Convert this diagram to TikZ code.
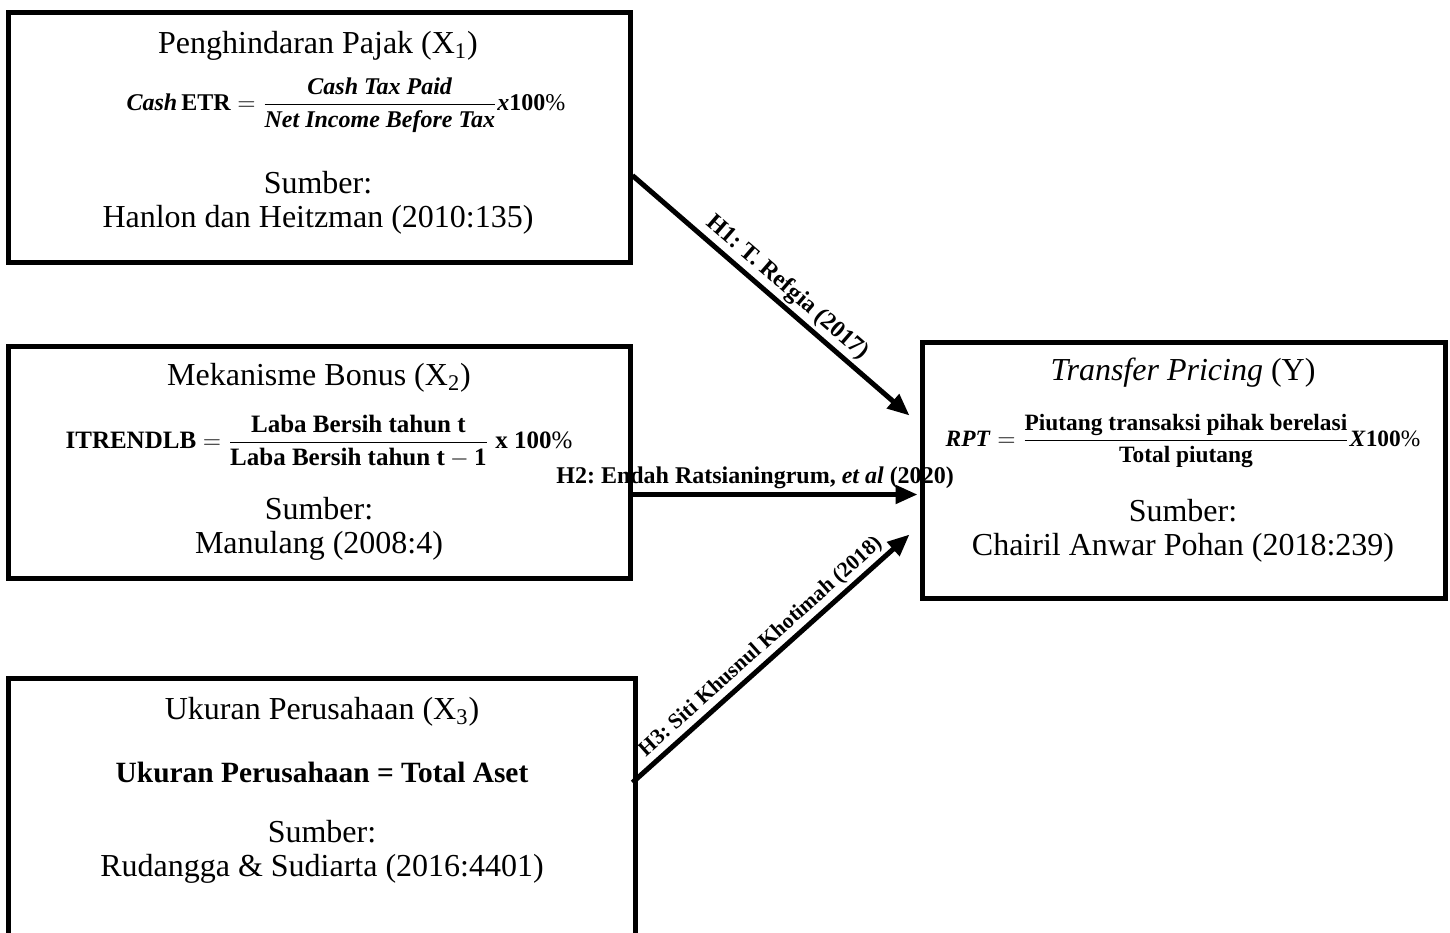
\documentclass[tikz,border=0pt]{standalone}
\usepackage{fontspec}
\setmainfont{Liberation Serif}
\usepackage{amsmath}
\usetikzlibrary{calc,arrows.meta}

\tikzset{
	varbox/.style={draw, line width=2.5pt, inner sep=0pt},
	judul/.style={font=\fontsize{16}{18}\selectfont, inner sep=0pt},
	rumus/.style={font=\fontsize{12.5}{15}\selectfont, inner sep=0pt},
	sumber/.style={font=\fontsize{16}{17}\selectfont, align=center, inner sep=0pt},
	panah/.style={line width=2.5pt, -{Triangle[length=11pt,width=9pt]}},
	hipo/.style={font=\fontsize{12}{13}\selectfont\bfseries\frenchspacing, inner sep=1.5pt},
}

\begin{document}
\begin{tikzpicture}[x=0.5pt, y=-0.5pt]
		%%%%% START %%%%%
		\useasboundingbox (0,0) rectangle (1450,932);
		\clip (0,0) rectangle (1450,932);
		
		% kotak variabel
		\node[varbox, minimum width=311pt, minimum height=125pt] (x1) at (319,137) {};
		\node[varbox, minimum width=311pt, minimum height=116pt] (x2) at (319,462) {};
		\node[varbox, minimum width=313.5pt, minimum height=141pt] (x3) at (321.5,819) {};
		\node[varbox, minimum width=261.5pt, minimum height=128pt] (y) at (1183.5,470) {};
		
		% X1
		\node[judul] (x1judul) at (318,46) {Penghindaran Pajak (X\textsubscript{1})};
		\node[rumus, font=\fontsize{12}{15}\selectfont] (x1rumus) at (346,105) {$\textbf{\textit{Cash}}\,\textbf{ETR} = \dfrac{\textbf{\textit{Cash Tax Paid}}}{\textbf{\textit{Net Income Before Tax}}}\textbf{\textit{x}}\textbf{100}\%$};
		\node[sumber] (x1sumber) at (318,203) {Sumber:\\Hanlon dan Heitzman (2010:135)};
		
		% X2
		\node[judul] (x2judul) at (319,378) {Mekanisme Bonus (X\textsubscript{2})};
		\node[rumus] (x2rumus) at (319,441) {$\textbf{ITRENDLB} = \dfrac{\textbf{Laba Bersih tahun t}}{\textbf{Laba Bersih tahun t} - \textbf{1}}\ \textbf{x 100}\%$};
		\node[sumber] (x2sumber) at (319,529) {Sumber:\\Manulang (2008:4)};
		
		% X3
		\node[judul] (x3judul) at (322,712) {Ukuran Perusahaan (X\textsubscript{3})};
		\node[judul, font=\fontsize{14.7}{17}\selectfont\bfseries] (x3rumus) at (322,772) {Ukuran Perusahaan = Total Aset};
		\node[sumber] (x3sumber) at (322,852) {Sumber:\\Rudangga \& Sudiarta (2016:4401)};
		
		% Y
		\node[judul] (yjudul) at (1183,373) {\textit{Transfer Pricing} (Y)};
		\node[rumus, font=\fontsize{11.7}{15}\selectfont] (yrumus) at (1183,441) {$\textbf{\textit{RPT}} = \dfrac{\textbf{Piutang transaksi pihak berelasi}}{\textbf{Total piutang}}\textbf{\textit{X}}\textbf{100}\%$};
		\node[sumber] (ysumber) at (1183,531) {Sumber:\\Chairil Anwar Pohan (2018:239)};
		
		% hipotesis
		\draw[panah] ($(x1.north east)+(0,166)$) -- ($(y.north west)+(-10,76)$)
			node[hipo, pos=0.52, sloped, above] (h1) {H1: T. Refgia (2017)};
		\draw[panah] ($(x2.north east)+(0,151)$) -- ($(y.north west)+(-2,155)$)
			node[hipo, pos=0.43, above] (h2) {H2: Endah Ratsianingrum, \textit{et al} (2020)};
		\draw[panah] ($(x3.north west)+(627,107)$) -- ($(y.north west)+(-10,195)$)
			node[hipo, font=\fontsize{10.8}{12}\selectfont\bfseries\frenchspacing, pos=0.5, sloped, above] (h3) {H3: Siti Khusnul Khotimah (2018)};
		
		%%%%% END %%%%%
	\end{tikzpicture}
\end{document}
